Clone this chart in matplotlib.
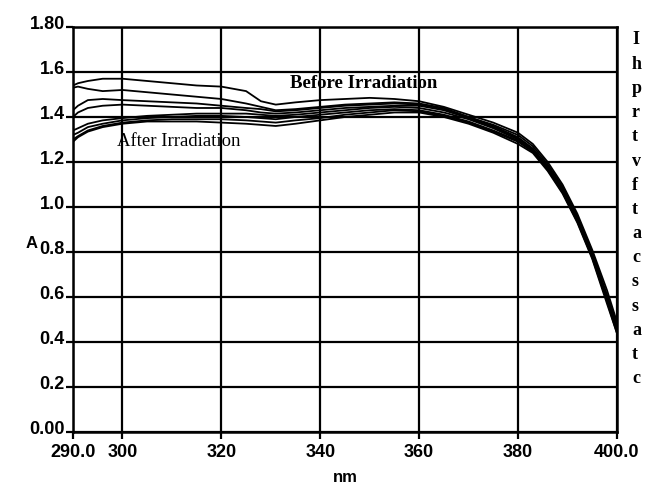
import matplotlib
matplotlib.use("Agg")
import matplotlib.pyplot as plt
import matplotlib.transforms as mtransforms

# comprimentos de onda (nm)
wl = [290, 291, 293, 296, 300, 305, 310, 315, 320, 325, 328, 331, 335, 340, 345,
      350, 355, 360, 365, 370, 375, 380, 383, 386, 389, 392, 395, 398, 400]

# antes da irradiacao
antes_1 = [1.54, 1.55, 1.56, 1.57, 1.57, 1.56, 1.55, 1.54, 1.535, 1.515, 1.47, 1.455, 1.465, 1.475, 1.48,
           1.485, 1.48, 1.47, 1.445, 1.41, 1.375, 1.33, 1.28, 1.20, 1.10, 0.97, 0.81, 0.63, 0.49]
antes_2 = [1.53, 1.535, 1.525, 1.515, 1.52, 1.51, 1.50, 1.49, 1.48, 1.46, 1.445, 1.43, 1.435, 1.445, 1.455,
           1.46, 1.465, 1.46, 1.44, 1.40, 1.365, 1.32, 1.27, 1.19, 1.09, 0.96, 0.80, 0.61, 0.48]
antes_3 = [1.43, 1.45, 1.475, 1.48, 1.475, 1.47, 1.465, 1.46, 1.45, 1.44, 1.435, 1.425, 1.43, 1.44, 1.45,
           1.455, 1.46, 1.455, 1.435, 1.40, 1.36, 1.31, 1.26, 1.18, 1.08, 0.95, 0.79, 0.60, 0.46]
antes_4 = [1.40, 1.42, 1.44, 1.45, 1.455, 1.45, 1.445, 1.44, 1.44, 1.43, 1.42, 1.415, 1.42, 1.43, 1.44,
           1.445, 1.45, 1.45, 1.43, 1.395, 1.355, 1.305, 1.255, 1.175, 1.075, 0.945, 0.785, 0.595, 0.46]

# depois da irradiacao
depois_1 = [1.34, 1.35, 1.37, 1.385, 1.395, 1.405, 1.41, 1.415, 1.415, 1.415, 1.41, 1.405, 1.41, 1.42, 1.43,
            1.44, 1.445, 1.44, 1.42, 1.39, 1.35, 1.30, 1.255, 1.18, 1.08, 0.95, 0.79, 0.60, 0.47]
depois_2 = [1.32, 1.33, 1.355, 1.37, 1.385, 1.395, 1.40, 1.405, 1.405, 1.40, 1.395, 1.39, 1.40, 1.41, 1.42,
            1.43, 1.435, 1.43, 1.41, 1.38, 1.34, 1.295, 1.25, 1.17, 1.07, 0.94, 0.78, 0.59, 0.45]
depois_3 = [1.30, 1.315, 1.34, 1.36, 1.375, 1.385, 1.39, 1.39, 1.39, 1.385, 1.38, 1.375, 1.385, 1.395, 1.41,
            1.42, 1.43, 1.425, 1.405, 1.375, 1.335, 1.29, 1.245, 1.165, 1.065, 0.935, 0.775, 0.58, 0.44]
depois_4 = [1.29, 1.31, 1.335, 1.355, 1.37, 1.38, 1.38, 1.38, 1.375, 1.37, 1.365, 1.36, 1.37, 1.385, 1.40,
            1.41, 1.42, 1.42, 1.40, 1.37, 1.33, 1.28, 1.24, 1.16, 1.06, 0.93, 0.77, 0.57, 0.44]

curvas = [antes_1, antes_2, antes_3, antes_4, depois_1, depois_2, depois_3, depois_4]

xticks = [290, 300, 320, 340, 360, 380, 400]
xlabels = ['290.0', '300', '320', '340', '360', '380', '400.0']
yticks = [0.0, 0.2, 0.4, 0.6, 0.8, 1.0, 1.2, 1.4, 1.6, 1.8]
ylabels = ['0.00', '0.2', '0.4', '0.6', '0.8', '1.0', '1.2', '1.4', '1.6', '1.80']

# letras cortadas do texto ao lado
letras = ['I', 'h', 'p', 'r', 't', 'v', 'f', 't', 'a', 'c', 's', 's', 'a', 't', 'c']

fig = plt.figure(figsize=(6.48, 4.88), dpi=100)
ax = fig.add_axes([0.1127, 0.1148, 0.8393, 0.8299])

for c in curvas:
    ax.plot(wl, c, color='black', lw=1.3)

ax.set_xlim(290, 400)
ax.set_ylim(0, 1.8)
ax.set_xticks(xticks)
ax.set_xticklabels(xlabels)
ax.set_yticks(yticks)
ax.set_yticklabels(ylabels)
ax.grid(True, color='black', lw=1.6)
for s in ax.spines.values():
    s.set_linewidth(1.8)
ax.tick_params(direction='out', length=5, width=1.6, labelsize=13)
ax.tick_params(axis='x', pad=4)
ax.tick_params(axis='y', pad=1)
desloc = mtransforms.ScaledTranslation(0, 4 / 100, fig.dpi_scale_trans)
for t in ax.get_xticklabels() + ax.get_yticklabels():
    t.set_fontfamily('Liberation Sans')
    t.set_fontweight('bold')
for t in ax.get_yticklabels():
    t.set_transform(t.get_transform() + desloc)

ax.text(333.9, 1.547, 'Before Irradiation', family='Liberation Serif', fontsize=13.5,
        va='center', ha='left', fontweight='bold')
ax.text(298.9, 1.29, 'After Irradiation', family='Liberation Serif', fontsize=13.5,
        va='center', ha='left')

fig.text(32 / 648, 1 - 243 / 488, 'A', family='Liberation Sans', fontsize=12,
         fontweight='bold', ha='center', va='center')
fig.text(345 / 648, 1 - 478 / 488, 'nm', family='Liberation Sans', fontsize=12,
         fontweight='bold', ha='center', va='center')

for i, l in enumerate(letras):
    fig.text(632 / 648, 1 - (40 + i * 24.2) / 488, l, family='Liberation Serif',
             fontsize=13, fontweight='bold', ha='left', va='center')

fig.savefig('out.png', dpi=100)
